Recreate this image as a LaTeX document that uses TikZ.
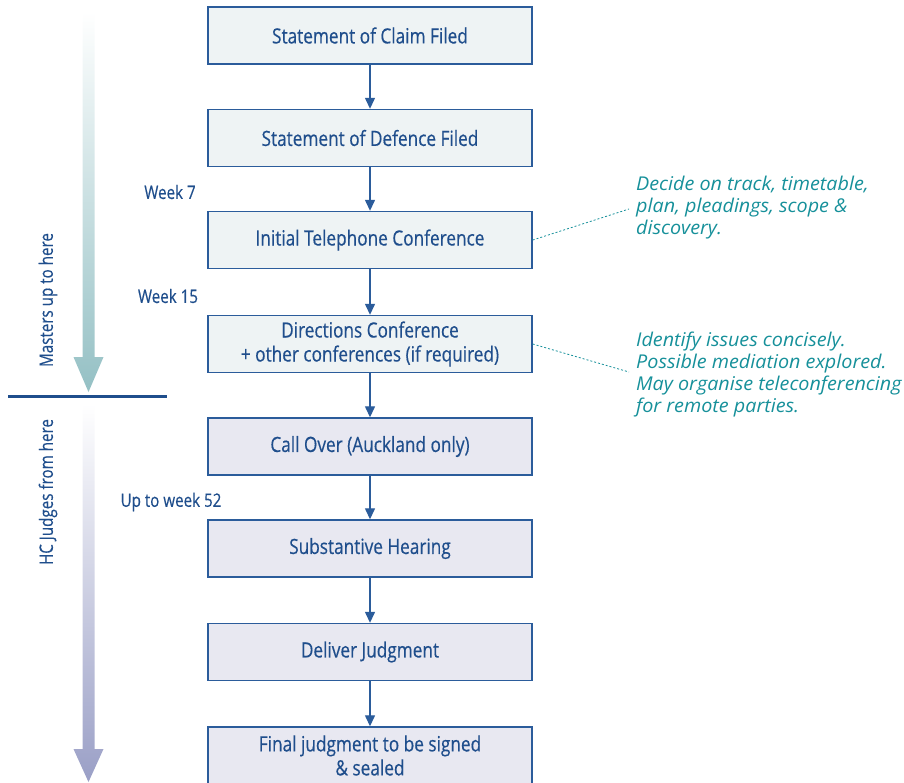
\documentclass[tikz,border=0pt]{standalone}
\usepackage{fontspec}
\setmainfont{Open Sans}
\newfontfamily\condfont{Open Sans}[FakeStretch=0.82,FakeBold=0.4]
\newfontfamily\notefont{Open Sans}[FakeStretch=1.04]
\usetikzlibrary{arrows.meta}
\definecolor{boxline}{HTML}{2B5C9B}
\definecolor{txt}{HTML}{1F4E8C}
\definecolor{fillA}{HTML}{EEF3F4}
\definecolor{fillB}{HTML}{E8E8F1}
\definecolor{noteC}{HTML}{16909A}
\definecolor{tealA}{HTML}{94C0C4}
\definecolor{lavA}{HTML}{9A9FC6}
\tikzset{
  stepbox/.style={draw=boxline, line width=1.4pt, minimum width=324pt, minimum height=57pt,
    inner sep=0pt, align=center, text=txt, font=\condfont\fontsize{21}{24}\selectfont},
  upper/.style={stepbox, fill=fillA},
  lower/.style={stepbox, fill=fillB},
  conn/.style={draw=boxline, line width=1.3pt, -{Triangle[length=11pt,width=10pt]}},
  wk/.style={text=txt, font=\condfont\fontsize{18.5}{20}\selectfont, inner sep=0pt},
  side/.style={text=txt, rotate=90, font=\condfont\fontsize{18.5}{20}\selectfont, inner sep=0pt},
  note/.style={text=noteC, align=left, inner sep=0pt, font=\notefont\itshape\fontsize{19}{22}\selectfont},
  dotline/.style={draw=noteC, line width=0.8pt, dash pattern=on 2pt off 2pt}
}
\begin{document}
\begin{tikzpicture}[x=1pt,y=-1pt]
\useasboundingbox (0,0) rectangle (904,782);
% left gradient arrows
\shade[top color=white, bottom color=tealA]
  (82.5,12) -- (94.5,12) -- (94.5,357) -- (103.5,357) -- (88.5,392) -- (73.5,357) -- (82.5,357) -- cycle;
\shade[top color=white, bottom color=lavA]
  (82.5,404) -- (94.5,404) -- (94.5,749) -- (103.5,749) -- (88.5,782) -- (73.5,749) -- (82.5,749) -- cycle;
\draw[txt, line width=3pt] (8,396) -- (167,396);
\node[side] (m) at (48,300) {Masters up to here};
\node[side] (h) at (48,492) {HC Judges from here};
% boxes
\node[upper] (b1) at (370,35.5) {Statement of Claim Filed};
\node[upper] (b2) at (370,138) {Statement of Defence Filed};
\node[upper] (b3) at (370,240) {Initial Telephone Conference};
\node[upper] (b4) at (370,344) {Directions Conference\\+ other conferences (if required)};
\node[lower] (b5) at (370,446.5) {Call Over (Auckland only)};
\node[lower] (b6) at (370,548.5) {Substantive Hearing};
\node[lower] (b7) at (370,652) {Deliver Judgment};
\node[lower] (b8) at (370,755.5) {Final judgment to be signed\\\& sealed};
\draw[conn] (b1) -- (b2);
\draw[conn] (b2) -- (b3);
\draw[conn] (b3) -- (b4);
\draw[conn] (b4) -- (b5);
\draw[conn] (b5) -- (b6);
\draw[conn] (b6) -- (b7);
\draw[conn] (b7) -- (b8);
% week labels
\node[wk] (w7) at (170,192) {Week 7};
\node[wk] (w15) at (168,296) {Week 15};
\node[wk] (w52) at (171,502) {Up to week 52};
% notes
\node[note, anchor=north west] (n1) at (636,176) {Decide on track, timetable,\\plan, pleadings, scope \&\\discovery.};
\node[note, anchor=north west] (n2) at (636,332) {Identify issues concisely.\\Possible mediation explored.\\May organise teleconferencing\\for remote parties.};
\coordinate (c1) at (629,209);
\coordinate (c2) at (629,372);
\draw[dotline] (b3.east) -- (c1);
\draw[dotline] (b4.east) -- (c2);
\end{tikzpicture}
\end{document}
